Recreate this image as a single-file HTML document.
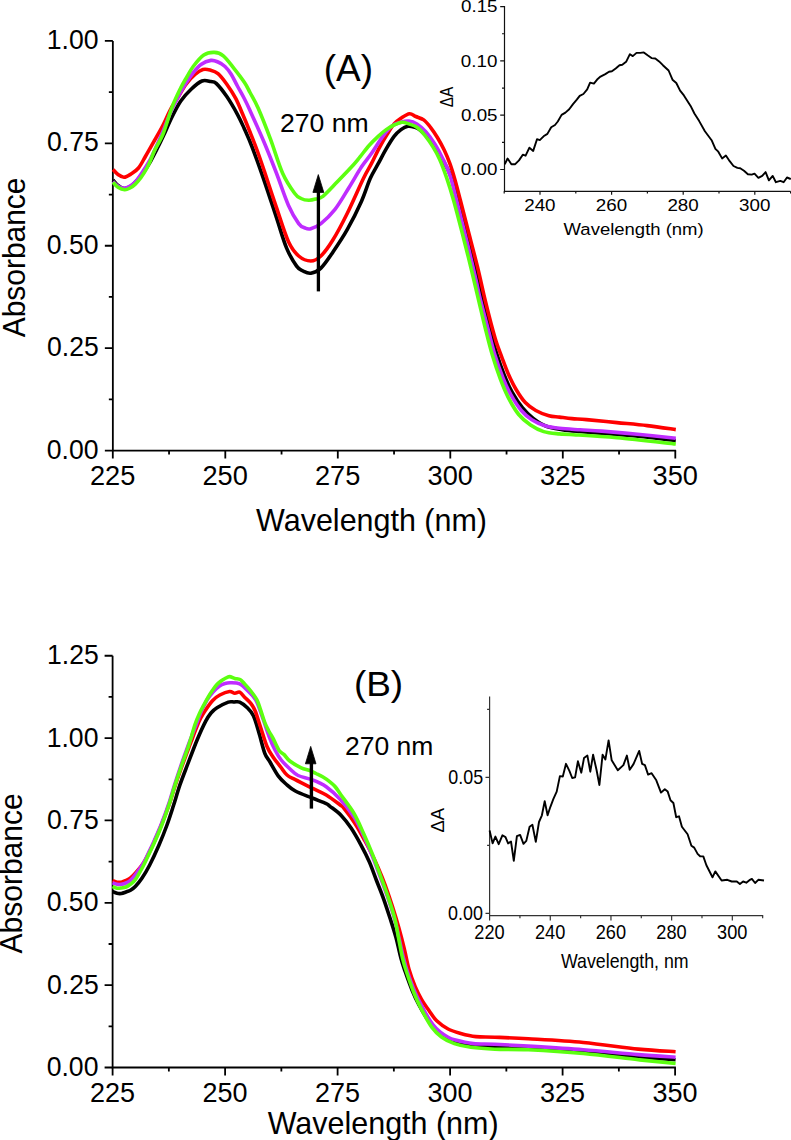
<!DOCTYPE html>
<html><head><meta charset="utf-8"><title>UV-Vis absorbance spectra (A) and (B)</title>
<style>
html,body{margin:0;padding:0;background:#fff;}
body{width:791px;height:1140px;overflow:hidden;}
svg{display:block;}
text{font-family:"Liberation Sans", sans-serif;font-size:100px;fill:#000;}
</style></head>
<body>
<svg width="791" height="1140" viewBox="0 0 791 1140">
<rect width="791" height="1140" fill="#fff"/>
<path d="M112.85,40.90 V450.60 H676.10" fill="none" stroke="#000" stroke-width="1.8"/>
<path d="M104.85,450.60 H112.85 M104.85,348.18 H112.85 M104.85,245.75 H112.85 M104.85,143.33 H112.85 M104.85,40.90 H112.85 M108.85,399.39 H112.85 M108.85,296.96 H112.85 M108.85,194.54 H112.85 M108.85,92.11 H112.85 M112.80,450.60 V458.60 M225.30,450.60 V458.60 M337.80,450.60 V458.60 M450.30,450.60 V458.60 M562.80,450.60 V458.60 M675.30,450.60 V458.60 M169.05,450.60 V454.60 M281.55,450.60 V454.60 M394.05,450.60 V454.60 M506.55,450.60 V454.60 M619.05,450.60 V454.60" fill="none" stroke="#000" stroke-width="1.8"/>
<text transform="matrix(0.2660 0 0 0.2700 46.79 458.70)">0.00</text>
<text transform="matrix(0.2660 0 0 0.2700 47.06 356.28)">0.25</text>
<text transform="matrix(0.2660 0 0 0.2700 46.79 253.85)">0.50</text>
<text transform="matrix(0.2660 0 0 0.2700 47.06 151.43)">0.75</text>
<text transform="matrix(0.2660 0 0 0.2700 46.79 49.00)">1.00</text>
<text transform="matrix(0.2720 0 0 0.2720 89.95 485.20)">225</text>
<text transform="matrix(0.2720 0 0 0.2720 202.45 485.20)">250</text>
<text transform="matrix(0.2720 0 0 0.2720 314.95 485.20)">275</text>
<text transform="matrix(0.2720 0 0 0.2720 427.59 485.20)">300</text>
<text transform="matrix(0.2720 0 0 0.2720 540.09 485.20)">325</text>
<text transform="matrix(0.2720 0 0 0.2720 652.59 485.20)">350</text>
<text transform="matrix(0.3048 0 0 0.3050 256.10 531.00)">Wavelength (nm)</text>
<text transform="matrix(0 -0.2994 0.3100 0 25.20 337.30)">Absorbance</text>
<text transform="matrix(0.3702 0 0 0.3600 323.68 80.80)">(A)</text>
<text transform="matrix(0.2661 0 0 0.2580 279.97 132.20)">270 nm</text>
<path d="M113.00,180.00 C113.83,180.92 116.17,184.08 118.00,185.50 C119.83,186.92 121.83,188.42 124.00,188.50 C126.17,188.58 128.92,187.25 131.00,186.00 C133.08,184.75 134.50,183.17 136.50,181.00 C138.50,178.83 140.63,176.33 143.00,173.00 C145.37,169.67 148.37,165.00 150.70,161.00 C153.03,157.00 154.93,153.08 157.00,149.00 C159.07,144.92 160.60,141.83 163.10,136.50 C165.60,131.17 169.05,122.92 172.00,117.00 C174.95,111.08 177.57,105.67 180.80,101.00 C184.03,96.33 187.87,92.33 191.40,89.00 C194.93,85.67 198.75,82.23 202.00,81.00 C205.25,79.77 208.53,81.20 210.90,81.60 C213.27,82.00 213.55,80.90 216.20,83.40 C218.85,85.90 223.27,91.45 226.80,96.60 C230.33,101.75 234.53,109.07 237.40,114.30 C240.27,119.53 241.55,122.55 244.00,128.00 C246.45,133.45 248.72,138.15 252.10,147.00 C255.48,155.85 260.25,169.35 264.30,181.10 C268.35,192.85 272.70,206.37 276.40,217.50 C280.10,228.63 283.13,239.80 286.50,247.90 C289.87,256.00 293.85,262.25 296.60,266.10 C299.35,269.95 300.63,269.82 303.00,271.00 C305.37,272.18 307.82,273.68 310.80,273.20 C313.78,272.72 317.20,271.65 320.90,268.10 C324.60,264.55 328.62,258.30 333.00,251.90 C337.38,245.50 342.47,238.12 347.20,229.70 C351.93,221.28 357.57,209.93 361.40,201.40 C365.23,192.87 367.40,184.78 370.20,178.50 C373.00,172.22 375.53,168.63 378.20,163.70 C380.87,158.77 383.55,153.45 386.20,148.90 C388.85,144.35 391.63,139.62 394.10,136.40 C396.57,133.18 398.72,131.30 401.00,129.60 C403.28,127.90 405.63,126.63 407.80,126.20 C409.97,125.77 411.88,126.32 414.00,127.00 C416.12,127.68 417.40,127.72 420.50,130.30 C423.60,132.88 429.18,138.05 432.60,142.50 C436.02,146.95 438.12,151.75 441.00,157.00 C443.88,162.25 447.00,166.83 449.90,174.00 C452.80,181.17 455.38,189.17 458.40,200.00 C461.42,210.83 465.07,227.00 468.00,239.00 C470.93,251.00 473.58,261.83 476.00,272.00 C478.42,282.17 480.22,290.52 482.50,300.00 C484.78,309.48 487.40,320.13 489.70,328.90 C492.00,337.67 493.88,344.92 496.30,352.60 C498.72,360.28 501.57,368.42 504.20,375.00 C506.83,381.58 509.03,386.62 512.10,392.10 C515.17,397.58 519.08,403.52 522.60,407.90 C526.12,412.28 529.25,415.33 533.20,418.40 C537.15,421.47 541.48,424.43 546.30,426.30 C551.12,428.17 556.48,428.73 562.10,429.60 C567.72,430.47 573.40,430.90 580.00,431.50 C586.60,432.10 592.02,432.42 601.70,433.20 C611.38,433.98 625.75,434.97 638.10,436.20 C650.45,437.43 669.52,439.87 675.80,440.60" fill="none" stroke="#000000" stroke-width="3.6" stroke-linejoin="round"/>
<path d="M113.00,169.50 C113.83,170.33 116.17,173.20 118.00,174.50 C119.83,175.80 121.83,177.38 124.00,177.30 C126.17,177.22 128.58,175.55 131.00,174.00 C133.42,172.45 136.10,170.92 138.50,168.00 C140.90,165.08 142.78,161.00 145.40,156.50 C148.02,152.00 151.25,146.25 154.20,141.00 C157.15,135.75 160.43,130.17 163.10,125.00 C165.77,119.83 167.83,114.43 170.20,110.00 C172.57,105.57 174.65,102.70 177.30,98.40 C179.95,94.10 183.15,88.18 186.10,84.20 C189.05,80.22 192.20,76.95 195.00,74.50 C197.80,72.05 200.40,70.25 202.90,69.50 C205.40,68.75 207.48,69.32 210.00,70.00 C212.52,70.68 215.20,71.23 218.00,73.60 C220.80,75.97 223.85,80.07 226.80,84.20 C229.75,88.33 233.05,93.38 235.70,98.40 C238.35,103.42 240.32,108.70 242.70,114.30 C245.08,119.90 247.62,126.05 250.00,132.00 C252.38,137.95 254.62,143.50 257.00,150.00 C259.38,156.50 261.07,161.43 264.30,171.00 C267.53,180.57 272.37,195.60 276.40,207.40 C280.43,219.20 284.78,233.70 288.50,241.80 C292.22,249.90 294.98,252.80 298.70,256.00 C302.42,259.20 307.10,261.00 310.80,261.00 C314.50,261.00 317.20,259.53 320.90,256.00 C324.60,252.47 328.62,246.88 333.00,239.80 C337.38,232.72 342.13,223.72 347.20,213.50 C352.27,203.28 359.37,186.80 363.40,178.50 C367.43,170.20 368.75,168.82 371.40,163.70 C374.05,158.58 376.65,152.73 379.30,147.80 C381.95,142.87 384.83,138.08 387.30,134.10 C389.77,130.12 391.82,126.55 394.10,123.90 C396.38,121.25 398.43,119.90 401.00,118.20 C403.57,116.50 407.03,113.98 409.50,113.70 C411.97,113.42 413.43,115.47 415.80,116.50 C418.17,117.53 421.25,118.10 423.70,119.90 C426.15,121.70 428.22,124.37 430.50,127.30 C432.78,130.23 435.12,133.70 437.40,137.50 C439.68,141.30 442.12,145.73 444.20,150.10 C446.28,154.47 448.10,158.72 449.90,163.70 C451.70,168.68 453.27,173.95 455.00,180.00 C456.73,186.05 458.13,191.67 460.30,200.00 C462.47,208.33 465.13,218.83 468.00,230.00 C470.87,241.17 474.65,255.33 477.50,267.00 C480.35,278.67 482.83,290.55 485.10,300.00 C487.37,309.45 489.23,316.68 491.10,323.70 C492.97,330.72 494.55,336.62 496.30,342.10 C498.05,347.58 499.62,351.33 501.60,356.60 C503.58,361.87 505.78,368.22 508.20,373.70 C510.62,379.18 513.25,384.68 516.10,389.50 C518.95,394.32 522.02,399.10 525.30,402.60 C528.58,406.10 531.87,408.30 535.80,410.50 C539.73,412.70 544.95,414.70 548.90,415.80 C552.85,416.90 555.65,416.63 559.50,417.10 C563.35,417.57 567.50,418.18 572.00,418.60 C576.50,419.02 579.02,418.93 586.50,419.60 C593.98,420.27 606.78,421.60 616.90,422.60 C627.02,423.60 637.38,424.43 647.20,425.60 C657.02,426.77 671.03,428.93 675.80,429.60" fill="none" stroke="#ff0000" stroke-width="3.6" stroke-linejoin="round"/>
<path d="M113.00,181.50 C113.83,182.25 116.13,184.88 118.00,186.00 C119.87,187.12 122.03,188.27 124.20,188.20 C126.37,188.13 128.87,187.00 131.00,185.60 C133.13,184.20 135.00,182.20 137.00,179.80 C139.00,177.40 140.72,174.75 143.00,171.20 C145.28,167.65 148.37,162.87 150.70,158.50 C153.03,154.13 154.93,149.58 157.00,145.00 C159.07,140.42 160.60,137.00 163.10,131.00 C165.60,125.00 169.05,115.50 172.00,109.00 C174.95,102.50 178.47,96.33 180.80,92.00 C183.13,87.67 183.97,86.17 186.00,83.00 C188.03,79.83 190.50,76.08 193.00,73.00 C195.50,69.92 198.02,66.60 201.00,64.50 C203.98,62.40 208.07,60.82 210.90,60.40 C213.73,59.98 215.65,60.98 218.00,62.00 C220.35,63.02 222.83,64.50 225.00,66.50 C227.17,68.50 228.93,70.75 231.00,74.00 C233.07,77.25 235.23,82.00 237.40,86.00 C239.57,90.00 241.90,93.92 244.00,98.00 C246.10,102.08 246.62,103.05 250.00,110.50 C253.38,117.95 259.90,132.28 264.30,142.70 C268.70,153.12 272.37,162.55 276.40,173.00 C280.43,183.45 284.78,196.97 288.50,205.40 C292.22,213.83 295.95,219.83 298.70,223.60 C301.45,227.37 302.98,227.15 305.00,228.00 C307.02,228.85 308.15,229.43 310.80,228.70 C313.45,227.97 316.87,226.82 320.90,223.60 C324.93,220.38 330.28,215.47 335.00,209.40 C339.72,203.33 344.80,194.27 349.20,187.20 C353.60,180.13 357.70,172.62 361.40,167.00 C365.10,161.38 367.83,158.60 371.40,153.50 C374.97,148.40 379.38,140.95 382.80,136.40 C386.22,131.85 388.87,128.57 391.90,126.20 C394.93,123.83 398.17,123.07 401.00,122.20 C403.83,121.33 406.25,120.72 408.90,121.00 C411.55,121.28 414.05,122.08 416.90,123.90 C419.75,125.72 422.97,128.48 426.00,131.90 C429.03,135.32 432.25,139.85 435.10,144.40 C437.95,148.95 440.63,154.08 443.10,159.20 C445.57,164.32 447.67,168.30 449.90,175.10 C452.13,181.90 453.48,188.18 456.50,200.00 C459.52,211.82 464.75,232.67 468.00,246.00 C471.25,259.33 473.92,271.00 476.00,280.00 C478.08,289.00 478.43,291.62 480.50,300.00 C482.57,308.38 485.98,321.08 488.40,330.30 C490.82,339.52 492.58,347.42 495.00,355.30 C497.42,363.18 500.27,371.03 502.90,377.60 C505.53,384.17 507.73,389.22 510.80,394.70 C513.87,400.18 517.80,406.33 521.30,410.50 C524.80,414.67 527.85,417.17 531.80,419.70 C535.75,422.23 540.38,424.27 545.00,425.70 C549.62,427.13 553.67,427.62 559.50,428.30 C565.33,428.98 572.97,429.33 580.00,429.80 C587.03,430.27 591.70,430.32 601.70,431.10 C611.70,431.88 627.65,433.32 640.00,434.50 C652.35,435.68 669.83,437.58 675.80,438.20" fill="none" stroke="#bf2cff" stroke-width="3.6" stroke-linejoin="round"/>
<path d="M113.00,182.20 C113.83,183.05 116.05,186.03 118.00,187.30 C119.95,188.57 122.70,189.68 124.70,189.80 C126.70,189.92 128.23,188.95 130.00,188.00 C131.77,187.05 133.47,185.85 135.30,184.10 C137.13,182.35 139.10,180.10 141.00,177.50 C142.90,174.90 145.08,171.42 146.70,168.50 C148.32,165.58 149.43,162.92 150.70,160.00 C151.97,157.08 152.23,155.37 154.30,151.00 C156.37,146.63 160.15,141.08 163.10,133.80 C166.05,126.52 169.05,114.97 172.00,107.30 C174.95,99.63 178.47,92.60 180.80,87.80 C183.13,83.00 183.93,82.05 186.00,78.50 C188.07,74.95 190.23,70.42 193.20,66.50 C196.17,62.58 200.27,57.35 203.80,55.00 C207.33,52.65 211.15,52.25 214.40,52.40 C217.65,52.55 220.05,53.25 223.30,55.90 C226.55,58.55 230.37,63.87 233.90,68.30 C237.43,72.73 241.82,78.47 244.50,82.50 C247.18,86.53 247.72,88.20 250.00,92.50 C252.28,96.80 254.82,100.60 258.20,108.30 C261.58,116.00 266.25,127.92 270.30,138.70 C274.35,149.48 278.45,163.90 282.50,173.00 C286.55,182.10 291.52,189.05 294.60,193.30 C297.68,197.55 298.63,197.33 301.00,198.50 C303.37,199.67 306.30,200.22 308.80,200.30 C311.30,200.38 313.65,199.67 316.00,199.00 C318.35,198.33 319.38,199.13 322.90,196.30 C326.42,193.47 332.03,187.22 337.10,182.00 C342.17,176.78 349.48,169.18 353.30,165.00 C357.12,160.82 357.37,160.15 360.00,156.90 C362.63,153.65 366.07,148.92 369.10,145.50 C372.13,142.08 375.35,139.05 378.20,136.40 C381.05,133.75 383.55,131.50 386.20,129.60 C388.85,127.70 391.45,126.23 394.10,125.00 C396.75,123.77 399.63,122.38 402.10,122.20 C404.57,122.02 406.43,123.05 408.90,123.90 C411.37,124.75 414.23,125.40 416.90,127.30 C419.57,129.20 422.25,132.08 424.90,135.30 C427.55,138.52 430.35,142.62 432.80,146.60 C435.25,150.58 437.32,154.07 439.60,159.20 C441.88,164.33 444.18,170.60 446.50,177.40 C448.82,184.20 450.75,190.23 453.50,200.00 C456.25,209.77 460.08,224.67 463.00,236.00 C465.92,247.33 468.40,257.33 471.00,268.00 C473.60,278.67 476.13,289.62 478.60,300.00 C481.07,310.38 483.50,321.08 485.80,330.30 C488.10,339.52 489.98,347.20 492.40,355.30 C494.82,363.40 497.67,371.88 500.30,378.90 C502.93,385.92 505.13,391.47 508.20,397.40 C511.27,403.33 514.98,409.90 518.70,414.50 C522.42,419.10 526.33,422.15 530.50,425.00 C534.67,427.85 538.87,430.12 543.70,431.60 C548.53,433.08 555.12,433.42 559.50,433.90 C563.88,434.38 560.43,433.85 570.00,434.50 C579.57,435.15 599.27,436.22 616.90,437.80 C634.53,439.38 665.98,442.97 675.80,444.00" fill="none" stroke="#5cff10" stroke-width="3.6" stroke-linejoin="round"/>
<path d="M318.4,291.4 V190" stroke="#000" stroke-width="3.3" fill="none"/>
<path d="M318.3,174.6 L323.8,192.4 L312.9,192.4 Z" fill="#000" stroke="#000" stroke-width="0.8" stroke-linejoin="round"/>
<path d="M504.5,6.00 V191.3 H790.60" fill="none" stroke="#111" stroke-width="1.2"/>
<path d="M500.2,169.50 H504.5 M500.2,115.20 H504.5 M500.2,60.90 H504.5 M500.2,6.60 H504.5 M502.0,142.35 H504.5 M502.0,88.05 H504.5 M502.0,33.75 H504.5 M504.20,191.3 V193.50 M540.00,191.3 V194.70 M575.80,191.3 V193.50 M611.60,191.3 V194.70 M647.40,191.3 V193.50 M683.20,191.3 V194.70 M719.00,191.3 V193.50 M754.80,191.3 V194.70 M790.60,191.3 V193.50" fill="none" stroke="#111" stroke-width="1.2"/>
<text transform="matrix(0.1880 0 0 0.1700 460.79 175.10)">0.00</text>
<text transform="matrix(0.1880 0 0 0.1700 460.98 120.80)">0.05</text>
<text transform="matrix(0.1880 0 0 0.1700 460.79 66.50)">0.10</text>
<text transform="matrix(0.1880 0 0 0.1700 460.98 12.20)">0.15</text>
<text transform="matrix(0.1880 0 0 0.1700 524.21 211.00)">240</text>
<text transform="matrix(0.1880 0 0 0.1700 595.81 211.00)">260</text>
<text transform="matrix(0.1880 0 0 0.1700 667.41 211.00)">280</text>
<text transform="matrix(0.1880 0 0 0.1700 739.10 211.00)">300</text>
<text transform="matrix(0.1851 0 0 0.1710 563.61 234.70)">Wavelength (nm)</text>
<text transform="matrix(0 -0.1531 0.1870 0 453.20 107.16)">&#916;A</text>
<path d="M504.70,164.20 L507.60,158.50 L511.40,164.20 L515.20,164.20 L519.00,160.40 L522.80,154.70 L525.60,155.70 L529.40,147.70 L533.20,150.90 L537.00,139.20 L539.80,140.10 L543.60,136.30 L547.40,133.90 L551.20,127.20 L555.00,125.00 L557.80,121.50 L561.60,114.90 L565.40,112.60 L569.20,109.20 L573.00,104.10 L576.80,99.70 L579.70,95.90 L583.40,94.00 L587.20,89.30 L590.10,82.70 L593.90,83.60 L597.70,78.90 L600.50,76.60 L605.30,74.10 L609.00,71.70 L611.90,71.30 L615.70,68.40 L619.50,65.20 L622.30,64.70 L626.10,61.80 L629.90,54.20 L632.80,56.10 L636.50,52.90 L640.30,52.90 L643.80,52.40 L647.60,55.30 L651.50,58.10 L655.30,58.50 L659.10,61.40 L662.90,65.20 L668.60,70.50 L672.50,79.70 L676.30,83.00 L680.10,90.60 L683.90,95.40 L690.60,105.90 L694.40,113.50 L699.20,121.10 L704.90,131.30 L711.60,140.20 L715.40,148.80 L718.30,151.70 L722.10,158.40 L725.90,155.50 L729.70,161.20 L733.50,166.00 L737.40,167.90 L740.20,168.30 L744.00,170.80 L747.90,174.20 L751.70,174.60 L754.50,173.60 L758.40,177.80 L762.20,175.90 L765.60,172.10 L768.90,180.30 L772.70,175.90 L775.90,182.20 L780.30,180.90 L783.60,182.20 L787.00,177.50 L790.80,179.00" fill="none" stroke="#000" stroke-width="1.9" stroke-linejoin="round"/>
<path d="M112.6,655.75 V1067.50 H675.90" fill="none" stroke="#000" stroke-width="1.8"/>
<path d="M104.6,1067.50 H112.6 M104.6,985.15 H112.6 M104.6,902.80 H112.6 M104.6,820.45 H112.6 M104.6,738.10 H112.6 M104.6,655.75 H112.6 M108.6,1026.33 H112.6 M108.6,943.98 H112.6 M108.6,861.62 H112.6 M108.6,779.28 H112.6 M108.6,696.92 H112.6 M112.60,1067.50 V1075.50 M225.10,1067.50 V1075.50 M337.60,1067.50 V1075.50 M450.10,1067.50 V1075.50 M562.60,1067.50 V1075.50 M675.10,1067.50 V1075.50 M168.85,1067.50 V1071.50 M281.35,1067.50 V1071.50 M393.85,1067.50 V1071.50 M506.35,1067.50 V1071.50 M618.85,1067.50 V1071.50" fill="none" stroke="#000" stroke-width="1.8"/>
<text transform="matrix(0.2660 0 0 0.2700 46.69 1075.90)">0.00</text>
<text transform="matrix(0.2660 0 0 0.2700 46.96 993.55)">0.25</text>
<text transform="matrix(0.2660 0 0 0.2700 46.69 911.20)">0.50</text>
<text transform="matrix(0.2660 0 0 0.2700 46.96 828.85)">0.75</text>
<text transform="matrix(0.2660 0 0 0.2700 46.69 746.50)">1.00</text>
<text transform="matrix(0.2660 0 0 0.2700 46.96 664.15)">1.25</text>
<text transform="matrix(0.2700 0 0 0.2720 89.92 1102.40)">225</text>
<text transform="matrix(0.2700 0 0 0.2720 202.42 1102.40)">250</text>
<text transform="matrix(0.2700 0 0 0.2720 314.92 1102.40)">275</text>
<text transform="matrix(0.2700 0 0 0.2720 427.56 1102.40)">300</text>
<text transform="matrix(0.2700 0 0 0.2720 540.06 1102.40)">325</text>
<text transform="matrix(0.2700 0 0 0.2720 652.56 1102.40)">350</text>
<text transform="matrix(0.3048 0 0 0.3050 267.70 1133.50)">Wavelength (nm)</text>
<text transform="matrix(0 -0.3002 0.3100 0 21.70 953.50)">Absorbance</text>
<text transform="matrix(0.3694 0 0 0.3560 353.88 696.10)">(B)</text>
<text transform="matrix(0.2652 0 0 0.2590 344.97 754.50)">270 nm</text>
<path d="M112.50,891.50 C113.25,891.80 115.52,892.97 117.00,893.30 C118.48,893.63 119.90,893.72 121.40,893.50 C122.90,893.28 124.48,892.53 126.00,892.00 C127.52,891.47 128.95,891.22 130.50,890.30 C132.05,889.38 133.40,888.50 135.30,886.50 C137.20,884.50 139.50,881.88 141.90,878.30 C144.30,874.72 146.87,870.50 149.70,865.00 C152.53,859.50 156.05,851.88 158.90,845.30 C161.75,838.72 164.38,832.08 166.80,825.50 C169.22,818.92 171.20,812.60 173.40,805.80 C175.60,799.00 177.58,791.72 180.00,784.70 C182.42,777.68 185.05,771.15 187.90,763.70 C190.75,756.25 194.15,747.05 197.10,740.00 C200.05,732.95 203.28,725.90 205.60,721.40 C207.92,716.90 209.10,715.27 211.00,713.00 C212.90,710.73 214.12,709.62 217.00,707.80 C219.88,705.98 225.47,703.07 228.30,702.10 C231.13,701.13 232.10,702.00 234.00,702.00 C235.90,702.00 237.53,701.18 239.70,702.10 C241.87,703.02 244.72,705.22 247.00,707.50 C249.28,709.78 251.40,711.55 253.40,715.80 C255.40,720.05 257.10,726.75 259.00,733.00 C260.90,739.25 262.97,748.47 264.80,753.30 C266.63,758.13 267.73,758.20 270.00,762.00 C272.27,765.80 275.73,772.43 278.40,776.10 C281.07,779.77 283.18,781.52 286.00,784.00 C288.82,786.48 290.95,788.67 295.30,791.00 C299.65,793.33 306.95,795.90 312.10,798.00 C317.25,800.10 323.22,802.22 326.20,803.60 C329.18,804.98 327.50,804.33 330.00,806.30 C332.50,808.27 337.68,811.77 341.20,815.40 C344.72,819.03 347.82,823.18 351.10,828.10 C354.38,833.02 357.87,839.28 360.90,844.90 C363.93,850.52 366.73,855.95 369.30,861.80 C371.87,867.65 373.95,873.92 376.30,880.00 C378.65,886.08 381.05,891.75 383.40,898.30 C385.75,904.85 388.30,912.75 390.40,919.30 C392.50,925.85 394.25,931.15 396.00,937.60 C397.75,944.05 399.40,952.43 400.90,958.00 C402.40,963.57 403.15,965.67 405.00,971.00 C406.85,976.33 409.67,984.33 412.00,990.00 C414.33,995.67 416.33,1000.00 419.00,1005.00 C421.67,1010.00 424.83,1015.58 428.00,1020.00 C431.17,1024.42 434.72,1028.37 438.00,1031.50 C441.28,1034.63 444.03,1036.80 447.70,1038.80 C451.37,1040.80 455.73,1042.28 460.00,1043.50 C464.27,1044.72 467.48,1045.53 473.30,1046.10 C479.12,1046.67 485.73,1046.58 494.90,1046.90 C504.07,1047.22 513.57,1047.08 528.30,1048.00 C543.03,1048.92 564.97,1050.88 583.30,1052.40 C601.63,1053.92 622.92,1055.87 638.30,1057.10 C653.68,1058.33 669.38,1059.35 675.60,1059.80" fill="none" stroke="#000000" stroke-width="3.6" stroke-linejoin="round"/>
<path d="M112.50,880.60 C113.25,880.87 115.52,881.93 117.00,882.20 C118.48,882.47 119.90,882.48 121.40,882.20 C122.90,881.92 124.48,881.20 126.00,880.50 C127.52,879.80 128.83,879.33 130.50,878.00 C132.17,876.67 133.88,874.92 136.00,872.50 C138.12,870.08 141.20,866.42 143.20,863.50 C145.20,860.58 146.25,858.42 148.00,855.00 C149.75,851.58 151.43,848.08 153.70,843.00 C155.97,837.92 158.97,831.08 161.60,824.50 C164.23,817.92 167.32,809.75 169.50,803.50 C171.68,797.25 172.73,792.92 174.70,787.00 C176.67,781.08 179.10,774.17 181.30,768.00 C183.50,761.83 186.03,755.00 187.90,750.00 C189.77,745.00 191.07,741.75 192.50,738.00 C193.93,734.25 195.17,730.75 196.50,727.50 C197.83,724.25 198.98,721.42 200.50,718.50 C202.02,715.58 203.57,713.00 205.60,710.00 C207.63,707.00 210.33,703.00 212.70,700.50 C215.07,698.00 217.00,696.50 219.80,695.00 C222.60,693.50 227.00,691.78 229.50,691.50 C232.00,691.22 233.10,693.18 234.80,693.30 C236.50,693.42 238.07,691.55 239.70,692.20 C241.33,692.85 242.75,695.33 244.60,697.20 C246.45,699.07 249.03,701.10 250.80,703.40 C252.57,705.70 253.58,707.07 255.20,711.00 C256.82,714.93 258.53,721.08 260.50,727.00 C262.47,732.92 264.92,741.50 267.00,746.50 C269.08,751.50 270.72,753.58 273.00,757.00 C275.28,760.42 278.37,764.00 280.70,767.00 C283.03,770.00 284.57,772.88 287.00,775.00 C289.43,777.12 291.12,777.52 295.30,779.70 C299.48,781.88 306.95,785.55 312.10,788.10 C317.25,790.65 321.52,792.18 326.20,795.00 C330.88,797.82 337.23,802.77 340.20,805.00 C343.17,807.23 341.48,805.25 344.00,808.40 C346.52,811.55 351.80,818.47 355.30,823.90 C358.80,829.33 361.88,835.23 365.00,841.00 C368.12,846.77 371.17,852.50 374.00,858.50 C376.83,864.50 379.50,870.75 382.00,877.00 C384.50,883.25 386.67,889.17 389.00,896.00 C391.33,902.83 393.92,911.07 396.00,918.00 C398.08,924.93 400.00,931.93 401.50,937.60 C403.00,943.27 403.77,946.77 405.00,952.00 C406.23,957.23 407.20,963.22 408.90,969.00 C410.60,974.78 413.10,981.65 415.20,986.70 C417.30,991.75 419.18,995.30 421.50,999.30 C423.82,1003.30 426.57,1007.12 429.10,1010.70 C431.63,1014.28 433.53,1017.75 436.70,1020.80 C439.87,1023.85 444.10,1026.90 448.10,1029.00 C452.10,1031.10 456.07,1032.13 460.70,1033.40 C465.33,1034.67 470.20,1035.97 475.90,1036.60 C481.60,1037.23 486.17,1036.83 494.90,1037.20 C503.63,1037.57 513.57,1037.92 528.30,1038.80 C543.03,1039.68 564.97,1040.78 583.30,1042.50 C601.63,1044.22 622.92,1047.57 638.30,1049.10 C653.68,1050.63 669.38,1051.27 675.60,1051.70" fill="none" stroke="#ff0000" stroke-width="3.6" stroke-linejoin="round"/>
<path d="M112.50,882.80 C113.25,883.05 115.52,884.05 117.00,884.30 C118.48,884.55 119.90,884.52 121.40,884.30 C122.90,884.08 124.48,883.67 126.00,883.00 C127.52,882.33 128.95,881.67 130.50,880.30 C132.05,878.93 133.18,877.60 135.30,874.80 C137.42,872.00 141.08,866.97 143.20,863.50 C145.32,860.03 146.25,857.58 148.00,854.00 C149.75,850.42 151.43,847.08 153.70,842.00 C155.97,836.92 158.97,830.25 161.60,823.50 C164.23,816.75 167.32,808.00 169.50,801.50 C171.68,795.00 172.73,790.67 174.70,784.50 C176.67,778.33 179.10,770.92 181.30,764.50 C183.50,758.08 186.03,751.08 187.90,746.00 C189.77,740.92 191.07,737.67 192.50,734.00 C193.93,730.33 195.08,727.67 196.50,724.00 C197.92,720.33 199.25,716.00 201.00,712.00 C202.75,708.00 205.00,703.33 207.00,700.00 C209.00,696.67 210.97,694.30 213.00,692.00 C215.03,689.70 217.20,687.62 219.20,686.20 C221.20,684.78 223.10,684.07 225.00,683.50 C226.90,682.93 228.15,682.73 230.60,682.80 C233.05,682.87 236.97,682.70 239.70,683.90 C242.43,685.10 244.33,687.35 247.00,690.00 C249.67,692.65 253.20,695.47 255.70,699.80 C258.20,704.13 259.73,709.80 262.00,716.00 C264.27,722.20 267.13,731.33 269.30,737.00 C271.47,742.67 273.02,746.17 275.00,750.00 C276.98,753.83 278.70,756.83 281.20,760.00 C283.70,763.17 287.18,766.42 290.00,769.00 C292.82,771.58 294.42,773.72 298.10,775.50 C301.78,777.28 307.42,777.83 312.10,779.70 C316.78,781.57 321.52,783.42 326.20,786.70 C330.88,789.98 335.52,794.25 340.20,799.40 C344.88,804.55 350.38,811.50 354.30,817.60 C358.22,823.70 360.73,829.68 363.70,836.00 C366.67,842.32 369.30,848.58 372.10,855.50 C374.90,862.42 377.92,870.58 380.50,877.50 C383.08,884.42 385.25,890.08 387.60,897.00 C389.95,903.92 392.70,912.17 394.60,919.00 C396.50,925.83 397.52,931.50 399.00,938.00 C400.48,944.50 402.08,952.33 403.50,958.00 C404.92,963.67 405.67,966.50 407.50,972.00 C409.33,977.50 412.37,985.82 414.50,991.00 C416.63,996.18 418.38,999.27 420.30,1003.10 C422.22,1006.93 423.90,1010.42 426.00,1014.00 C428.10,1017.58 430.57,1021.60 432.90,1024.60 C435.23,1027.60 437.53,1029.93 440.00,1032.00 C442.47,1034.07 445.30,1035.70 447.70,1037.00 C450.10,1038.30 450.13,1038.70 454.40,1039.80 C458.67,1040.90 466.55,1042.87 473.30,1043.60 C480.05,1044.33 485.73,1043.78 494.90,1044.20 C504.07,1044.62 513.57,1045.17 528.30,1046.10 C543.03,1047.03 564.97,1048.38 583.30,1049.80 C601.63,1051.22 622.92,1053.37 638.30,1054.60 C653.68,1055.83 669.38,1056.77 675.60,1057.20" fill="none" stroke="#bf2cff" stroke-width="3.6" stroke-linejoin="round"/>
<path d="M112.50,886.60 C113.25,886.87 115.52,887.97 117.00,888.20 C118.48,888.43 119.90,888.20 121.40,888.00 C122.90,887.80 124.57,887.58 126.00,887.00 C127.43,886.42 128.45,885.70 130.00,884.50 C131.55,883.30 133.10,882.88 135.30,879.80 C137.50,876.72 141.08,869.97 143.20,866.00 C145.32,862.03 146.25,859.67 148.00,856.00 C149.75,852.33 151.43,849.08 153.70,844.00 C155.97,838.92 158.97,832.30 161.60,825.50 C164.23,818.70 167.32,809.77 169.50,803.20 C171.68,796.63 172.73,792.25 174.70,786.10 C176.67,779.95 179.10,772.67 181.30,766.30 C183.50,759.93 186.20,752.87 187.90,747.90 C189.60,742.93 190.32,740.40 191.50,736.50 C192.68,732.60 193.67,728.33 195.00,724.50 C196.33,720.67 198.03,716.72 199.50,713.50 C200.97,710.28 202.38,707.87 203.80,705.20 C205.22,702.53 206.52,700.02 208.00,697.50 C209.48,694.98 211.28,692.18 212.70,690.10 C214.12,688.02 215.17,686.47 216.50,685.00 C217.83,683.53 219.28,682.38 220.70,681.30 C222.12,680.22 223.53,679.28 225.00,678.50 C226.47,677.72 227.87,676.62 229.50,676.60 C231.13,676.58 233.03,677.92 234.80,678.40 C236.57,678.88 238.47,678.58 240.10,679.50 C241.73,680.42 242.82,681.98 244.60,683.90 C246.38,685.82 248.75,688.33 250.80,691.00 C252.85,693.67 255.28,696.80 256.90,699.90 C258.52,703.00 259.17,705.77 260.50,709.60 C261.83,713.43 263.52,719.33 264.90,722.90 C266.28,726.47 267.48,728.52 268.80,731.00 C270.12,733.48 271.52,735.38 272.80,737.80 C274.08,740.22 275.37,743.27 276.50,745.50 C277.63,747.73 278.33,749.68 279.60,751.20 C280.87,752.72 282.40,752.97 284.10,754.60 C285.80,756.23 286.95,758.80 289.80,761.00 C292.65,763.20 297.97,766.25 301.20,767.80 C304.43,769.35 306.73,769.35 309.20,770.30 C311.67,771.25 313.70,772.38 316.00,773.50 C318.30,774.62 320.73,775.65 323.00,777.00 C325.27,778.35 327.60,780.02 329.60,781.60 C331.60,783.18 333.10,784.27 335.00,786.50 C336.90,788.73 337.83,790.50 341.00,795.00 C344.17,799.50 350.22,807.05 354.00,813.50 C357.78,819.95 360.68,827.05 363.70,833.70 C366.72,840.35 369.30,846.38 372.10,853.40 C374.90,860.42 377.92,868.78 380.50,875.80 C383.08,882.82 385.25,888.48 387.60,895.50 C389.95,902.52 392.78,910.88 394.60,917.90 C396.42,924.92 397.18,930.92 398.50,937.60 C399.82,944.28 401.18,952.35 402.50,958.00 C403.82,963.65 404.48,965.67 406.40,971.50 C408.32,977.33 411.48,986.68 414.00,993.00 C416.52,999.32 418.55,1003.72 421.50,1009.40 C424.45,1015.08 428.32,1022.47 431.70,1027.10 C435.08,1031.73 438.02,1034.45 441.80,1037.20 C445.58,1039.95 449.55,1041.92 454.40,1043.60 C459.25,1045.28 464.15,1046.37 470.90,1047.30 C477.65,1048.23 485.33,1048.78 494.90,1049.20 C504.47,1049.62 513.57,1049.08 528.30,1049.80 C543.03,1050.52 564.97,1051.85 583.30,1053.50 C601.63,1055.15 622.92,1058.03 638.30,1059.70 C653.68,1061.37 669.38,1062.87 675.60,1063.50" fill="none" stroke="#5cff10" stroke-width="3.6" stroke-linejoin="round"/>
<path d="M311.4,808.6 V762" stroke="#000" stroke-width="3.4" fill="none"/>
<path d="M310.7,746.4 L316,763.8 L305.4,763.8 Z" fill="#000" stroke="#000" stroke-width="0.8" stroke-linejoin="round"/>
<path d="M489.6,696.4 V915.6 H763.16" fill="none" stroke="#333" stroke-width="1.2"/>
<path d="M485.5,913.30 H489.6 M485.5,777.30 H489.6 M487.1,845.30 H489.6 M487.1,709.30 H489.6 M489.60,915.6 V920.40 M519.94,915.6 V918.20 M550.28,915.6 V920.40 M580.62,915.6 V918.20 M610.96,915.6 V920.40 M641.30,915.6 V918.20 M671.64,915.6 V920.40 M701.98,915.6 V918.20 M732.32,915.6 V920.40 M762.66,915.6 V918.20" fill="none" stroke="#333" stroke-width="1.2"/>
<text transform="matrix(0.1790 0 0 0.1980 448.11 919.60)">0.00</text>
<text transform="matrix(0.1790 0 0 0.1980 448.29 783.60)">0.05</text>
<text transform="matrix(0.1820 0 0 0.1980 474.31 939.30)">220</text>
<text transform="matrix(0.1820 0 0 0.1980 534.99 939.30)">240</text>
<text transform="matrix(0.1820 0 0 0.1980 595.67 939.30)">260</text>
<text transform="matrix(0.1820 0 0 0.1980 656.35 939.30)">280</text>
<text transform="matrix(0.1820 0 0 0.1980 717.12 939.30)">300</text>
<text transform="matrix(0.1775 0 0 0.1980 561.02 967.70)">Wavelength, nm</text>
<text transform="matrix(0 -0.1838 0.1870 0 443.60 832.45)">&#916;A</text>
<path d="M489.60,830.50 L492.60,843.40 L495.40,836.60 L498.70,844.20 L502.40,835.30 L505.50,837.10 L508.10,843.40 L511.00,841.50 L513.80,860.90 L516.90,836.20 L520.10,834.90 L523.50,843.80 L526.30,840.90 L529.60,826.70 L532.40,824.80 L535.80,841.90 L539.00,822.00 L541.90,815.30 L544.70,801.10 L547.60,815.30 L550.40,806.80 L553.30,799.20 L556.70,791.60 L559.90,776.10 L562.80,776.50 L566.00,763.80 L569.40,770.80 L572.20,778.00 L575.10,777.40 L577.90,761.30 L581.30,772.70 L584.00,758.10 L587.40,755.60 L590.30,771.70 L593.10,754.70 L596.50,769.80 L599.40,785.00 L602.60,754.70 L605.40,759.40 L608.60,740.40 L611.70,760.30 L617.80,770.20 L623.40,765.10 L626.90,755.60 L629.70,769.80 L633.50,764.10 L639.20,750.90 L642.10,763.80 L644.90,765.10 L648.10,774.60 L651.60,773.20 L656.30,780.30 L661.00,792.60 L664.80,789.20 L667.70,791.60 L670.50,800.20 L673.40,803.00 L676.20,817.20 L679.00,816.30 L681.90,826.70 L687.60,834.30 L691.40,845.70 L694.20,847.60 L697.60,853.90 L700.10,856.20 L703.30,856.40 L706.40,865.30 L712.50,877.30 L715.30,871.40 L721.60,880.50 L727.30,879.80 L731.70,881.50 L736.80,881.50 L739.90,884.00 L743.10,881.50 L746.30,882.70 L749.40,880.20 L751.90,878.90 L755.10,883.00 L758.30,879.80 L764.00,880.50" fill="none" stroke="#000" stroke-width="1.9" stroke-linejoin="round"/>
</svg>
</body></html>
